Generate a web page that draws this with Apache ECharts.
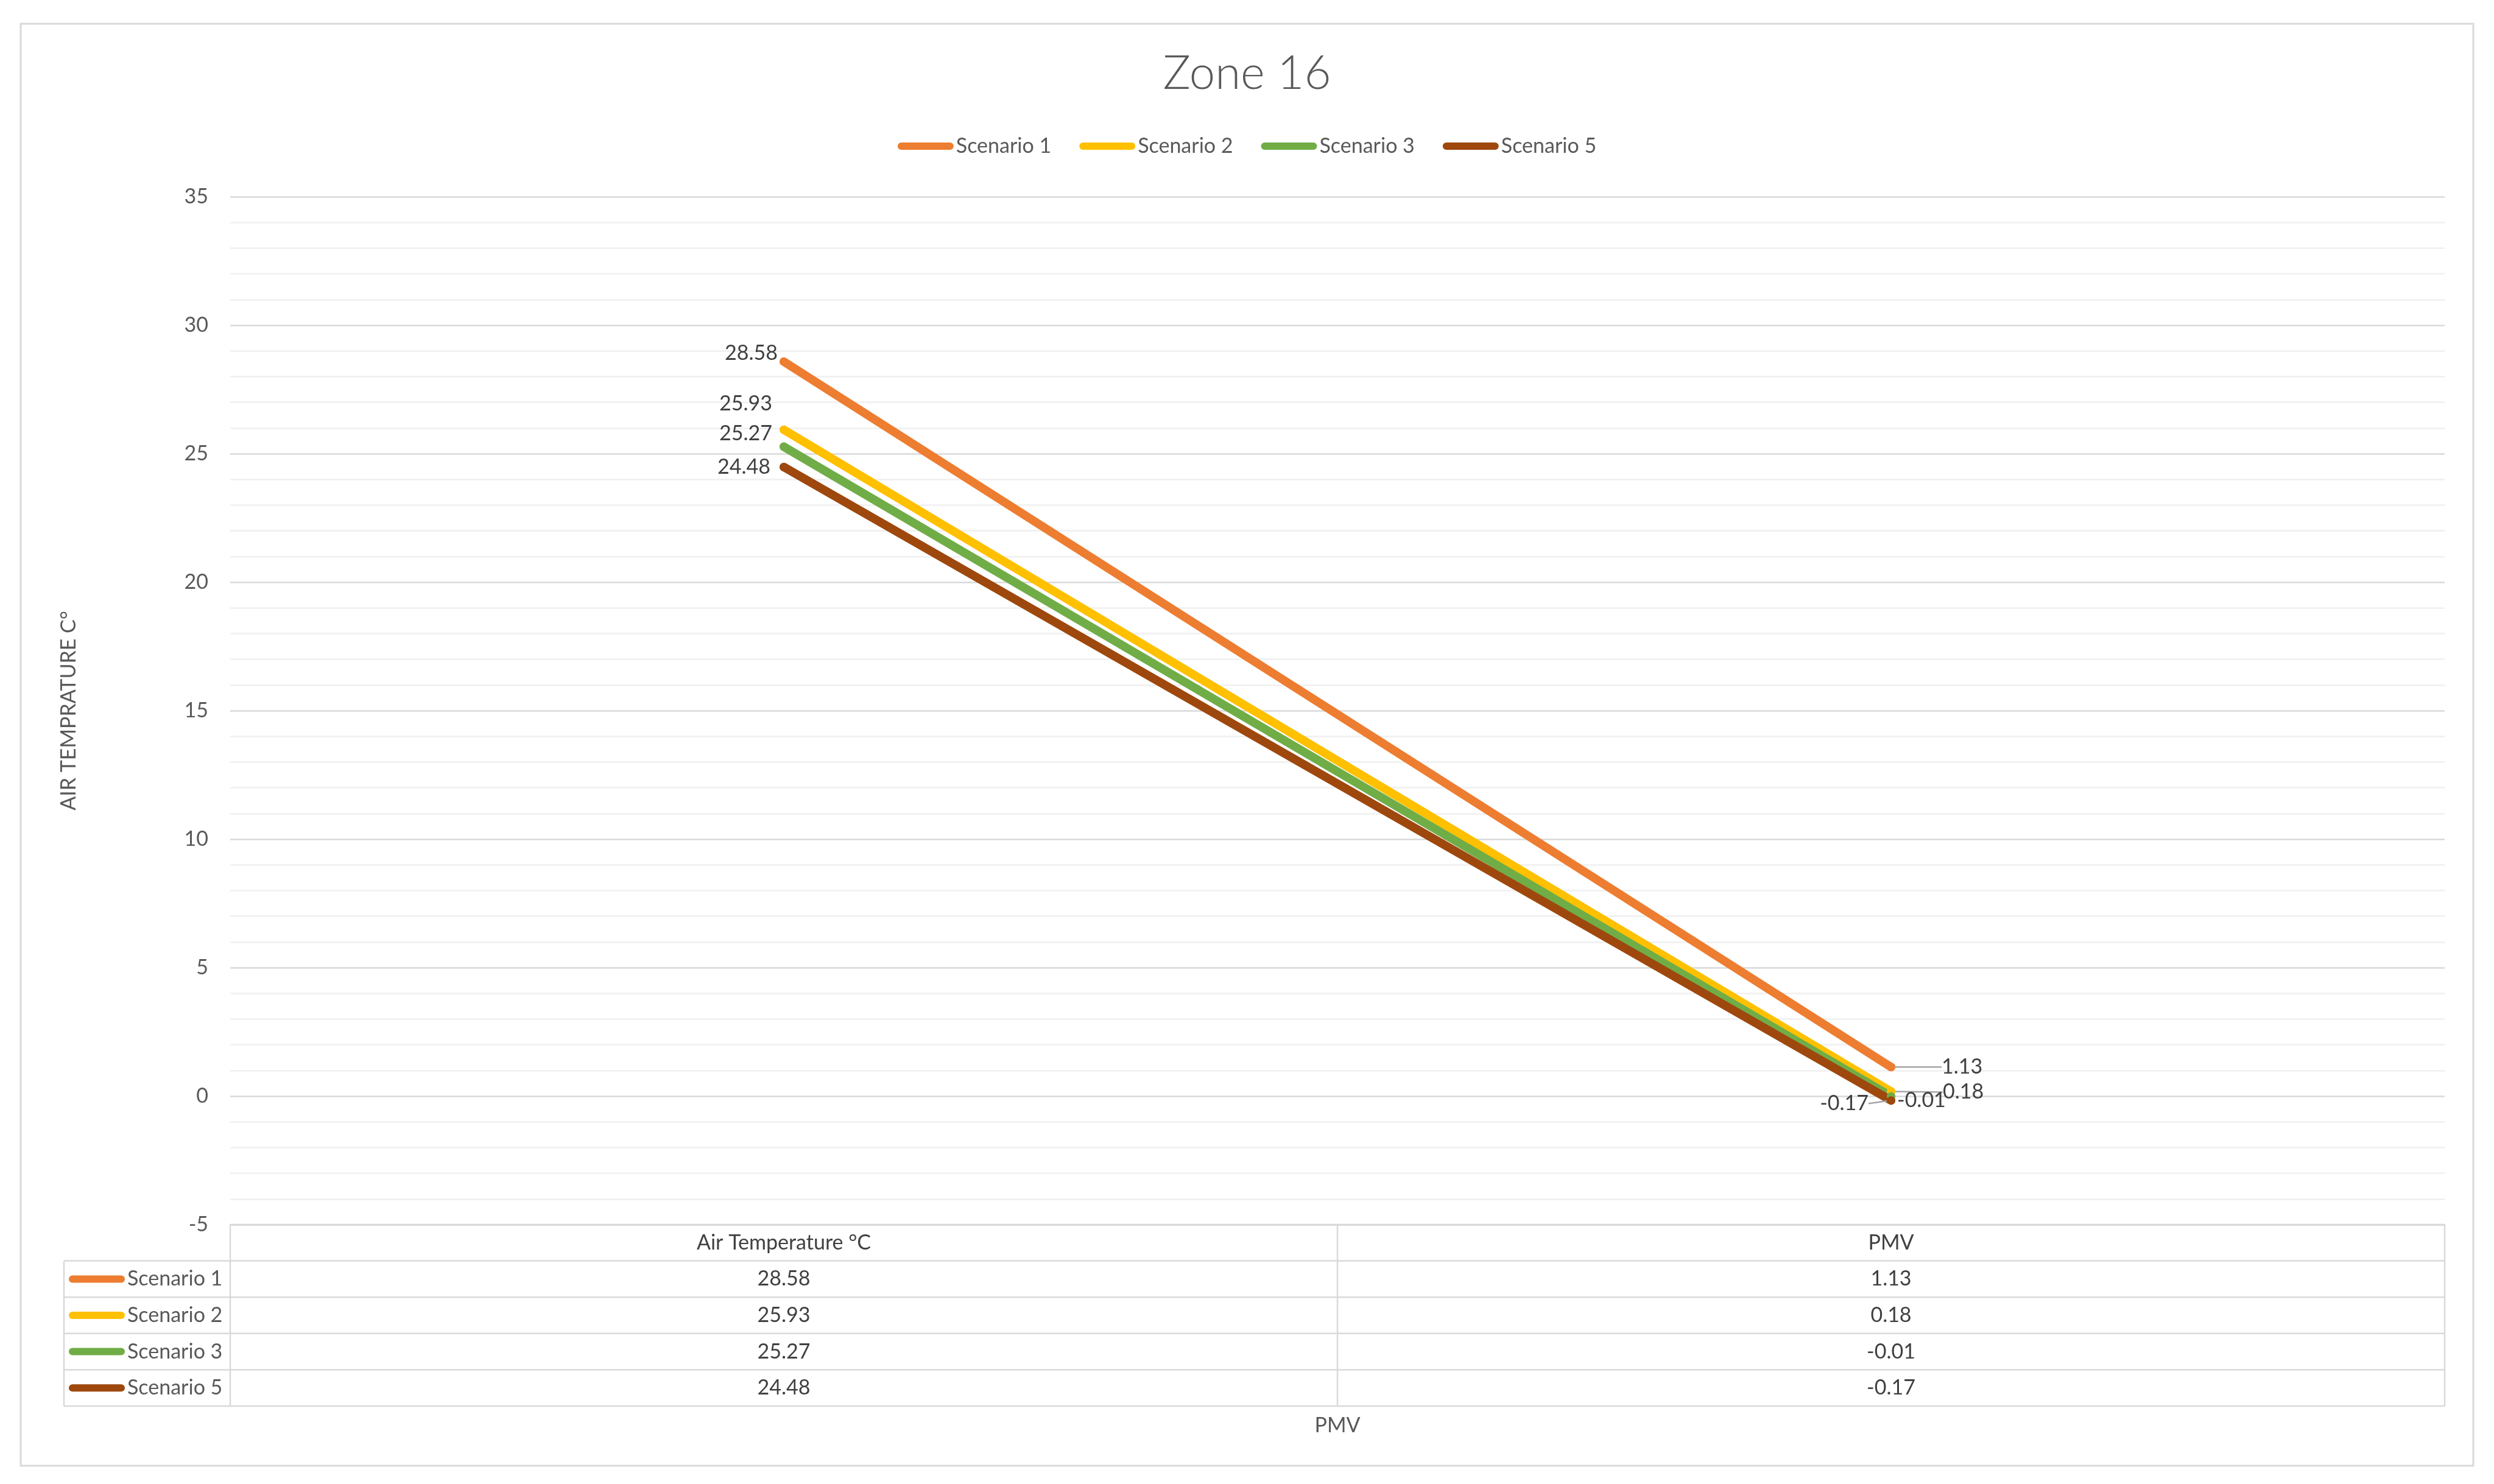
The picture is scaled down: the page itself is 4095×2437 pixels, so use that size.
<!DOCTYPE html>
<html>
<head>
<meta charset="utf-8">
<title>Zone 16</title>
<script src="https://cdn.jsdelivr.net/npm/echarts@6/dist/echarts.min.js"></script>
<style>
  html, body { margin: 0; padding: 0; background: #fff; }
  #chart { width: 4095px; height: 2437px; }
</style>
</head>
<body>
<div id="chart"></div>
<script>
// data
const categories = ['Air Temperature °C', 'PMV'];
const seriesNames = ['Scenario 1', 'Scenario 2', 'Scenario 3', 'Scenario 5'];
const scenario1 = [28.58, 1.13];
const scenario2 = [25.93, 0.18];
const scenario3 = [25.27, -0.01];
const scenario5 = [24.48, -0.17];
const yMin = -5;
const yMax = 35;
const yStep = 5;

const seriesValues = [scenario1, scenario2, scenario3, scenario5];
const colors = ['#ED7D31', '#FFC000', '#70AD47', '#9E480E'];

// label placement per series / per point (Excel moved them to avoid overlap)
const labelSide = [['left', 'right'], ['left', 'right'], ['left', 'right'], ['left', 'left']];
const labelShift = [
  [[1, -14], [72, 0]],
  [[-8, -43], [74, 1]],
  [[-8, -22], [-1, 7]],
  [[-11, 0], [-26, 5]]
];
const leader = [[false, true], [false, true], [false, false], [false, true]];

// layout
const W = 4095, H = 2437;
const gridLeft = 378, gridRight = 4014, gridTop = 323, gridBottom = 2011;
const rowH = 59.6;
const tableLeft = 105;
const font = 'Lato, "Open Sans", sans-serif';
const fs = 34;

const chart = echarts.init(document.getElementById('chart'));

// data table borders under the plot
const border = { stroke: '#d9d9d9', lineWidth: 2.5 };
const tableLines = [];
const nRows = seriesNames.length;
const tableBottom = gridBottom + rowH * (nRows + 1);
// header top (only over the value columns)
tableLines.push({ x1: gridLeft, y1: gridBottom, x2: gridRight, y2: gridBottom });
for (let r = 1; r <= nRows + 1; r++) {
  const y = gridBottom + rowH * r;
  tableLines.push({ x1: tableLeft, y1: y, x2: gridRight, y2: y });
}
tableLines.push({ x1: tableLeft, y1: gridBottom + rowH, x2: tableLeft, y2: tableBottom });
for (let c = 0; c <= categories.length; c++) {
  const x = gridLeft + (gridRight - gridLeft) * c / categories.length;
  tableLines.push({ x1: x, y1: gridBottom, x2: x, y2: tableBottom });
}

const graphics = tableLines.map(s => ({
  type: 'line', silent: true, shape: s, style: border
}));
graphics.push({
  type: 'rect', silent: true, z: -1,
  shape: { x: 34, y: 39, width: 4061 - 34, height: 2407 - 39 },
  style: { fill: 'none', stroke: '#d9d9d9', lineWidth: 3 }
});

const series = seriesNames.map((name, s) => ({
  name: name,
  type: 'line',
  data: seriesValues[s].map((v, i) => ({
    value: v,
    label: { position: labelSide[s][i] },
    labelLine: { show: leader[s][i] }
  })),
  symbol: 'circle',
  symbolSize: 14,
  showSymbol: true,
  color: colors[s],
  itemStyle: { color: colors[s] },
  lineStyle: { width: 14, color: colors[s], cap: 'round' },
  label: {
    show: true,
    formatter: p => p.value.toFixed(2),
    fontFamily: font,
    fontSize: fs,
    color: '#404040',
    distance: 4
  },
  labelLine: {
    show: false,
    lineStyle: { color: '#a6a6a6', width: 2.5 }
  },
  labelLayout: p => ({ dx: labelShift[s][p.dataIndex][0], dy: labelShift[s][p.dataIndex][1] }),
  emphasis: { disabled: true },
  animation: false
}));

const legendIcon = 'path://M6,0L86,0A6,6,0,0,1,86,12L6,12A6,6,0,0,1,6,0Z';

chart.setOption({
  backgroundColor: '#fff',
  animation: false,
  title: {
    text: 'Zone 16',
    left: 'center',
    top: 78,
    textStyle: { fontFamily: font, fontSize: 76, fontWeight: 300, color: '#595959' }
  },
  legend: [
    {
      data: seriesNames,
      left: 'center',
      top: 220,
      padding: 0,
      icon: legendIcon,
      itemWidth: 92,
      itemHeight: 12,
      itemGap: 46,
      textStyle: { fontFamily: font, fontSize: fs, color: '#595959', lineHeight: 40, padding: [0, 0, 0, -1] }
    },
    {
      data: seriesNames,
      orient: 'vertical',
      left: tableLeft + 8,
      top: gridBottom + rowH + (rowH - 40) / 2,
      padding: 0,
      icon: legendIcon,
      itemWidth: 92,
      itemHeight: 12,
      itemGap: rowH - 40,
      textStyle: { fontFamily: font, fontSize: fs, color: '#595959', lineHeight: 40, padding: [0, 0, 0, -1] }
    }
  ],
  grid: {
    left: gridLeft,
    right: W - gridRight,
    top: gridTop,
    bottom: H - gridBottom,
    containLabel: false
  },
  xAxis: {
    type: 'category',
    data: categories,
    boundaryGap: true,
    name: 'PMV',
    nameLocation: 'middle',
    nameGap: 313,
    nameTextStyle: { fontFamily: font, fontSize: fs, color: '#595959' },
    axisLine: { show: true, onZero: false, lineStyle: { color: '#d9d9d9', width: 2.5 } },
    axisTick: { show: false },
    splitLine: { show: false },
    axisLabel: {
      margin: 0,
      interval: 0,
      fontFamily: font,
      fontSize: fs,
      color: '#404040',
      lineHeight: rowH,
      formatter: (value, idx) => [value].concat(seriesValues.map(sv => sv[idx].toFixed(2))).join('\n')
    }
  },
  yAxis: {
    type: 'value',
    min: yMin,
    max: yMax,
    interval: yStep,
    name: 'AIR TEMPRATURE C°',
    nameLocation: 'middle',
    nameGap: 248,
    nameTextStyle: { fontFamily: font, fontSize: fs, color: '#595959' },
    axisLine: { show: false },
    axisTick: { show: false },
    axisLabel: { fontFamily: font, fontSize: fs, color: '#595959', margin: 36 },
    splitLine: { show: true, lineStyle: { color: '#d9d9d9', width: 2.5 } },
    minorTick: { show: false, splitNumber: 5 },
    minorSplitLine: { show: true, lineStyle: { color: '#f0f0f0', width: 2.5 } }
  },
  graphic: graphics,
  series: series
});
</script>
</body>
</html>
